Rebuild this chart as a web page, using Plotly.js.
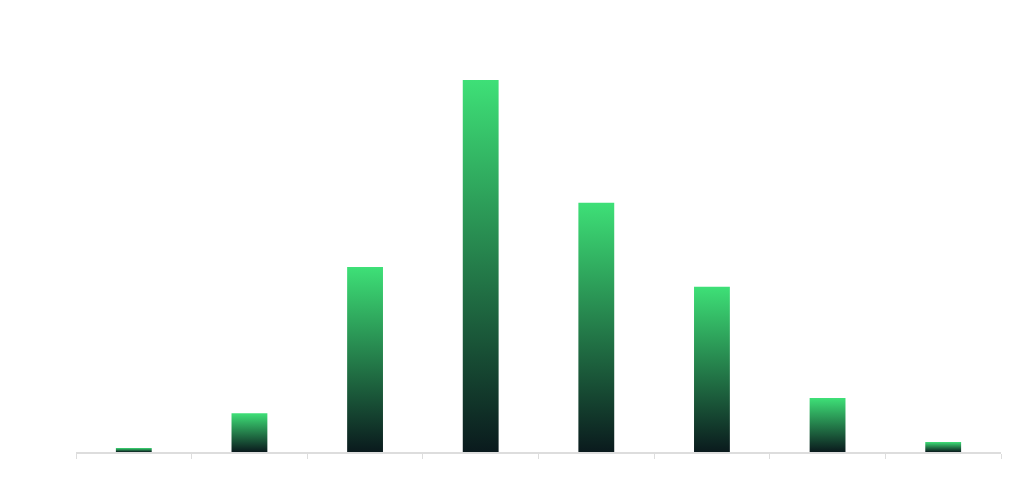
<!DOCTYPE html>
<html>
<head>
<meta charset="utf-8">
<script src="https://cdn.plot.ly/plotly-3.0.1.min.js"></script>
<style>
  html, body { margin: 0; padding: 0; background: #ffffff; }
  #chart { width: 1024px; height: 499px; }
</style>
</head>
<body>
<div id="chart"></div>
<script>
// Data (relative bar heights, tallest = 100)
const categories = ["1", "2", "3", "4", "5", "6", "7", "8"];
const values = [1.1, 10.4, 49.7, 100, 67.0, 44.4, 14.5, 2.7];

const gradientTop = "#3ee077";
const gradientBottom = "#0a1a1d";

const trace = {
  type: "bar",
  x: categories,
  y: values,
  marker: { color: gradientTop, line: { width: 0 } },
  hoverinfo: "none"
};

const layout = {
  width: 1024,
  height: 499,
  margin: { l: 76, r: 23, t: 20, b: 47 },
  paper_bgcolor: "#ffffff",
  plot_bgcolor: "#ffffff",
  bargap: 0.69,
  showlegend: false,
  xaxis: {
    type: "category",
    showticklabels: false,
    showline: true,
    linecolor: "#dddddd",
    linewidth: 1.5,
    ticks: "outside",
    tickson: "boundaries",
    ticklen: 5,
    tickcolor: "#dddddd",
    tickwidth: 1,
    showgrid: false,
    zeroline: false
  },
  yaxis: {
    range: [0, 116.1],
    visible: false,
    showgrid: false,
    zeroline: false
  }
};

Plotly.newPlot("chart", [trace], layout, { displayModeBar: false, staticPlot: true }).then(function (gd) {
  const svg = gd.querySelector("svg.main-svg");
  const ns = "http://www.w3.org/2000/svg";
  let defs = svg.querySelector("defs");
  if (!defs) { defs = document.createElementNS(ns, "defs"); svg.insertBefore(defs, svg.firstChild); }
  const grad = document.createElementNS(ns, "linearGradient");
  grad.setAttribute("id", "barGrad");
  grad.setAttribute("x1", "0"); grad.setAttribute("y1", "0");
  grad.setAttribute("x2", "0"); grad.setAttribute("y2", "1");
  [[0, gradientTop], [1, gradientBottom]].forEach(function (s) {
    const st = document.createElementNS(ns, "stop");
    st.setAttribute("offset", s[0]);
    st.setAttribute("stop-color", s[1]);
    grad.appendChild(st);
  });
  defs.appendChild(grad);
  gd.querySelectorAll(".bars .point path").forEach(function (p) {
    p.style.fill = "url(#barGrad)";
  });
});
</script>
</body>
</html>
